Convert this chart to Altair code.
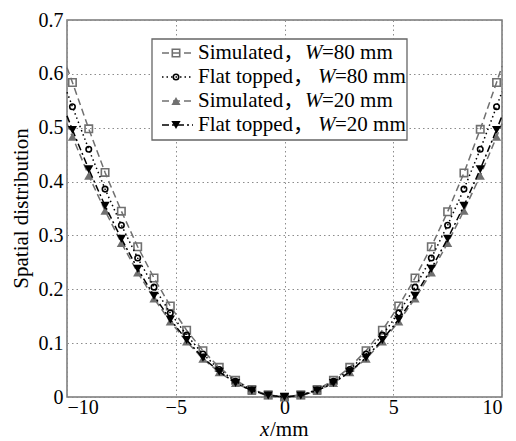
import altair as alt
import pandas as pd

# ---- data ----
x_mm = [-10, -9.75, -9, -8.25, -7.5, -6.75, -6, -5.25, -4.5, -3.75, -3, -2.25, -1.5, -0.75, 0,
        0.75, 1.5, 2.25, 3, 3.75, 4.5, 5.25, 6, 6.75, 7.5, 8.25, 9, 9.75, 10]
sim_80 = [0.612, 0.584, 0.498, 0.417, 0.345, 0.279, 0.221, 0.169, 0.124, 0.086, 0.055, 0.031, 0.014, 0.004, 0.0,
          0.004, 0.014, 0.031, 0.055, 0.086, 0.124, 0.169, 0.221, 0.279, 0.344, 0.416, 0.497, 0.584, 0.614]
flat_80 = [0.566, 0.539, 0.460, 0.386, 0.319, 0.258, 0.204, 0.156, 0.115, 0.080, 0.051, 0.029, 0.013, 0.003, 0.0,
           0.003, 0.013, 0.029, 0.051, 0.080, 0.115, 0.156, 0.204, 0.258, 0.319, 0.386, 0.460, 0.539, 0.567]
sim_20 = [0.508, 0.483, 0.411, 0.346, 0.286, 0.231, 0.183, 0.140, 0.103, 0.071, 0.046, 0.026, 0.011, 0.003, 0.0,
          0.003, 0.011, 0.026, 0.046, 0.071, 0.103, 0.140, 0.183, 0.231, 0.286, 0.346, 0.411, 0.483, 0.508]
flat_20 = [0.522, 0.496, 0.423, 0.355, 0.294, 0.238, 0.188, 0.144, 0.106, 0.073, 0.047, 0.026, 0.012, 0.003, 0.0,
           0.003, 0.012, 0.026, 0.047, 0.073, 0.106, 0.144, 0.188, 0.238, 0.294, 0.355, 0.423, 0.496, 0.522]

series_values = [sim_80, flat_80, sim_20, flat_20]
legend_prefix = ["Simulated，", "Flat topped，", "Simulated，", "Flat topped，"]
legend_italic = ["W", "W", "W", "W"]
legend_suffix = ["=80 mm", "=80 mm", "=20 mm", "=20 mm"]
x_ticks = [-10, -5, 0, 5, 10]
y_ticks = [0, 0.1, 0.2, 0.3, 0.4, 0.5, 0.6, 0.7]
x_title_italic = "x"
x_title_rest = "/mm"
y_title = "Spatial distribution"

# ---- styles ----
FONT = "Liberation Serif, Times New Roman, serif"
TEXT_FONT = "Liberation Serif, Noto Sans CJK SC, serif"
GRAY = "#707070"
styles = [
    dict(color=GRAY, dash=[7, 4], shape="square", filled=False, size=55),
    dict(color="black", dash=[1.5, 3], shape="circle", filled=False, size=30),
    dict(color=GRAY, dash=[7, 4], shape="triangle-up", filled=True, size=85),
    dict(color="black", dash=[7, 3, 2, 3], shape="triangle-down", filled=True, size=85),
]

xscale = alt.Scale(domain=[-10, 10], nice=False, zero=False)
yscale = alt.Scale(domain=[0, 0.7], nice=False)
axis_common = dict(grid=True, gridColor="#8c8c8c", gridDash=[1.5, 3], gridWidth=1,
                   domain=False, ticks=False, labelFont=FONT, labelFontSize=20,
                   labelColor="black", title=None)
xaxis = alt.Axis(values=x_ticks, format="d", labelPadding=0, **axis_common)
yaxis = alt.Axis(values=y_ticks, format=".1~f", labelPadding=4, **axis_common)

layers = []
for i, (vals, st) in enumerate(zip(series_values, styles)):
    df = pd.DataFrame({"x": x_mm, "v": vals})
    base = alt.Chart(df)
    enc = dict(x=alt.X("x:Q", scale=xscale, axis=xaxis),
               y=alt.Y("v:Q", scale=yscale, axis=yaxis))
    line = base.mark_line(color=st["color"], strokeDash=st["dash"], strokeWidth=1.5).encode(**enc)
    pts = base.transform_filter("abs(datum.x) < 10").mark_point(
        shape=st["shape"], filled=st["filled"], color=st["color"], size=st["size"],
        strokeWidth=1.6, opacity=1,
    ).encode(**enc)
    layers += [line, pts]

one = pd.DataFrame({"k": [0]})

# legend box
layers.append(alt.Chart(one).mark_rect(fill="white", stroke="#666666", strokeWidth=1.3).encode(
    x=alt.value(85), x2=alt.value(340), y=alt.value(19), y2=alt.value(120)))

w_pos = [238, 251, 238, 251]
for i, st in enumerate(styles):
    yy = 33 + 24 * i
    layers.append(alt.Chart(one).mark_rule(color=st["color"], strokeDash=st["dash"], strokeWidth=1.5).encode(
        x=alt.value(95), x2=alt.value(126), y=alt.value(yy)))
    layers.append(alt.Chart(one).mark_point(shape=st["shape"], filled=st["filled"], color=st["color"],
                                            size=st["size"], strokeWidth=1.6, opacity=1).encode(
        x=alt.value(109), y=alt.value(yy)))
    layers.append(alt.Chart(one).mark_text(text=legend_prefix[i], font=TEXT_FONT, fontSize=21, align="left",
                                           baseline="middle", color="black").encode(
        x=alt.value(131), y=alt.value(yy)))
    layers.append(alt.Chart(one).mark_text(text=legend_italic[i], font=FONT, fontSize=21, fontStyle="italic",
                                           align="left", baseline="middle", color="black").encode(
        x=alt.value(w_pos[i]), y=alt.value(yy)))
    layers.append(alt.Chart(one).mark_text(text=legend_suffix[i], font=FONT, fontSize=21, align="left",
                                           baseline="middle", color="black").encode(
        x=alt.value(w_pos[i] + 17), y=alt.value(yy)))

# axis titles
layers.append(alt.Chart(one).mark_text(text=x_title_italic, font=FONT, fontSize=21, fontStyle="italic",
                                       align="left", baseline="alphabetic", color="black").encode(
    x=alt.value(193), y=alt.value(416)))
layers.append(alt.Chart(one).mark_text(text=x_title_rest, font=FONT, fontSize=21, align="left",
                                       baseline="alphabetic", color="black").encode(
    x=alt.value(203), y=alt.value(416)))
layers.append(alt.Chart(one).mark_text(text=y_title, font=FONT, fontSize=21, angle=270, align="center",
                                       baseline="middle", color="black").encode(
    x=alt.value(-45), y=alt.value(188.5)))

chart = alt.layer(*layers).properties(
    width=435, height=377,
    padding={"left": 67, "top": 20, "right": 14, "bottom": 44},
    autosize=alt.AutoSizeParams(type="none"),
    background="white",
).configure_view(stroke="#777777", strokeWidth=1.5)

chart.save("out.html", embed_options={"renderer": "svg", "actions": False})
